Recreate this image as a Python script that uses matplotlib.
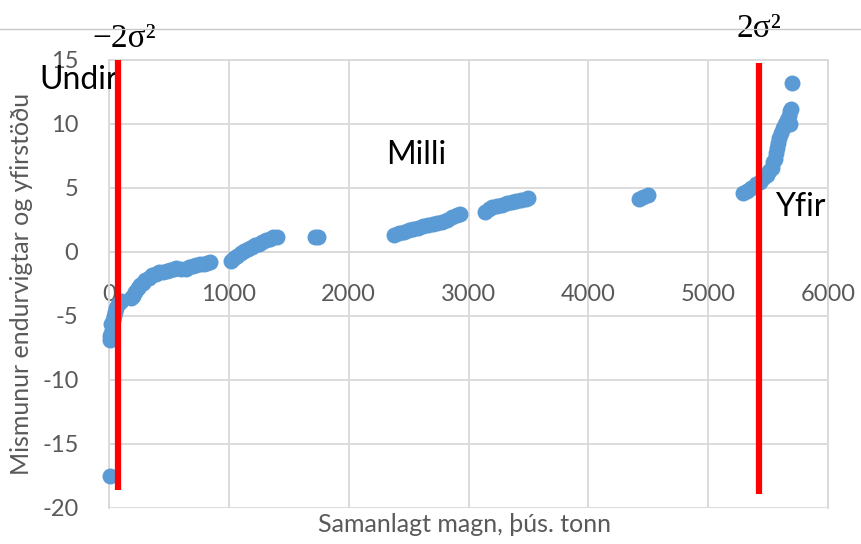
import matplotlib
matplotlib.use("Agg")
import matplotlib.pyplot as plt
from matplotlib.lines import Line2D

# cumulative tonnage (thous. tonnes) and difference
x_points = [10, 5, 10, 15, 20, 30, 40, 50, 60, 75, 90, 100,
            180, 200, 220, 240, 260, 280, 300, 330, 360, 390, 420, 450, 480,
            510, 540, 560, 600, 640, 670, 700, 730, 760, 790, 820, 840,
            1020, 1040, 1070, 1100, 1130, 1160, 1190, 1220, 1250, 1280, 1310,
            1340, 1370, 1400,
            1720, 1740,
            2380, 2420, 2460, 2500, 2540, 2580, 2620, 2660, 2700, 2740, 2780,
            2820, 2860, 2900, 2930,
            3140, 3170, 3200, 3240, 3280, 3320, 3360, 3400, 3440, 3480, 3500,
            4420, 4460, 4500,
            5290, 5320, 5360, 5400, 5430, 5460, 5490, 5510, 5530, 5545, 5560,
            5570, 5575, 5585, 5595, 5610, 5625, 5640, 5660, 5680, 5675, 5680,
            5690, 5700]
y_points = [-17.5, -6.9, -6.6, -6.3, -5.6, -5.3, -5.0, -4.7, -4.4, -4.1, -3.9, -3.8,
            -3.6, -3.4, -3.1, -2.8, -2.6, -2.4, -2.2, -2.0, -1.8, -1.7, -1.6, -1.55, -1.5,
            -1.4, -1.3, -1.25, -1.35, -1.3, -1.2, -1.1, -1.0, -0.95, -0.9, -0.85, -0.8,
            -0.7, -0.5, -0.3, -0.1, 0.05, 0.2, 0.4, 0.55, 0.65, 0.8, 0.95,
            1.05, 1.15, 1.2,
            1.2, 1.15,
            1.3, 1.45, 1.55, 1.7, 1.8, 1.9, 2.0, 2.1, 2.2, 2.3, 2.35,
            2.5, 2.7, 2.9, 3.0,
            3.1, 3.35, 3.5, 3.6, 3.7, 3.8, 3.9, 4.0, 4.05, 4.15, 4.25,
            4.15, 4.3, 4.45,
            4.6, 4.8, 5.0, 5.3, 5.5, 5.8, 6.0, 6.3, 6.6, 7.0, 7.3,
            7.7, 8.1, 8.5, 8.9, 9.3, 9.7, 10.0, 10.3, 10.0, 10.6, 11.0,
            11.2, 13.2]

# the two 2 sigma limits (x position, bottom, top)
limit_low = [73, -18.6, 15.0]
limit_high = [5423, -18.9, 14.8]

x_ticks = [0, 1000, 2000, 3000, 4000, 5000, 6000]
y_ticks = [-20, -15, -10, -5, 0, 5, 10, 15]

plt.rcParams['font.family'] = ['Lato', 'DejaVu Sans']
plt.rcParams['axes.unicode_minus'] = False

fig = plt.figure(figsize=(8.61, 5.44), dpi=100)
ax = fig.add_axes([109/861, 1 - 508/544, 719/861, 448/544])

grid_col = '#d9d9d9'
text_col = '#595959'

ax.plot(x_points, y_points, 'o', color='#5b9bd5', markersize=11.5,
        markeredgewidth=0, zorder=3, clip_on=False)

for lim in (limit_low, limit_high):
    ax.plot([lim[0], lim[0]], [lim[1], lim[2]], color='#ff0000', lw=4.5,
            solid_capstyle='butt', zorder=4, clip_on=False)

ax.set_xlim(0, 6000)
ax.set_ylim(-20, 15)
ax.set_xticks(x_ticks)
ax.set_yticks(y_ticks)
ax.grid(True, color=grid_col, lw=1.3)
ax.set_axisbelow(True)

ax.spines['bottom'].set_position(('data', 0))
for s in ax.spines.values():
    s.set_color(grid_col)
    s.set_linewidth(1.3)

ax.tick_params(axis='both', length=0, labelsize=17, labelcolor=text_col)
ax.tick_params(axis='x', pad=23)
ax.tick_params(axis='y', pad=22)

ax.set_ylabel('Mismunur endurvigtar og yfirstöðu', fontsize=18, color=text_col)
ax.yaxis.set_label_coords(-0.106, 0.50)
ax.set_xlabel('Samanlagt magn, þús. tonn', fontsize=18, color=text_col)
ax.xaxis.set_label_coords(0.495, -0.012)

# annotations
ax.text(125, 16.05, '\u22122σ²', family='Liberation Serif', fontsize=24,
        ha='center', va='baseline', clip_on=False)
ax.text(5423, 16.8, '2σ²', family='Liberation Serif', fontsize=24,
        ha='center', va='baseline', clip_on=False)
ax.text(-577, 12.7, 'Undir', fontsize=23, ha='left', va='baseline', clip_on=False)
ax.text(2310, 6.9, 'Milli', fontsize=23, ha='left', va='baseline')
ax.text(5556, 2.8, 'Yfir', fontsize=23, ha='left', va='baseline', clip_on=False)

fig.add_artist(Line2D([0, 1], [1 - 29/544, 1 - 29/544], transform=fig.transFigure,
                      color='#c8c8c8', lw=1))

fig.savefig('out.png', dpi=100)
